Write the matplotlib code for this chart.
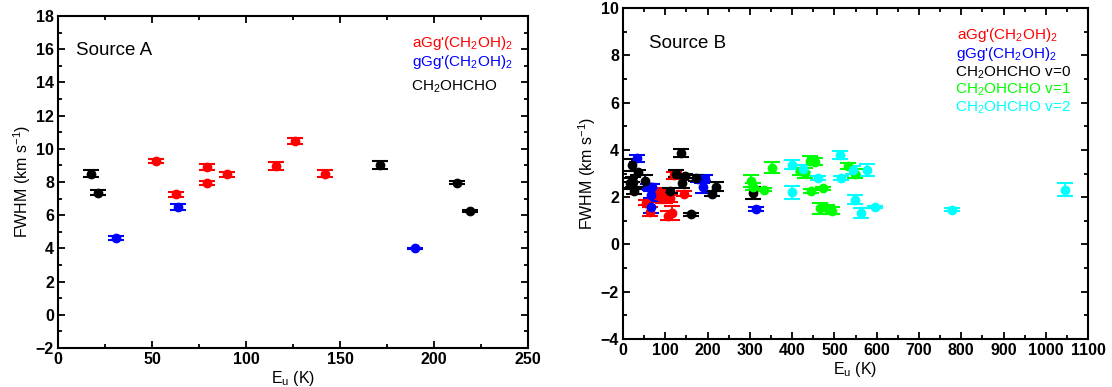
import matplotlib
matplotlib.use("Agg")
import matplotlib.pyplot as plt
from matplotlib.ticker import MultipleLocator

plt.rcParams['font.family'] = ['Liberation Sans', 'DejaVu Sans']
plt.rcParams['mathtext.default'] = 'regular'

RED = '#ff0000'
BLUE = '#0000ff'
GREEN = '#00ff00'
CYAN = '#00ffff'

# Source A
a_agg_eu = [52, 63, 79, 79, 90, 116, 126, 142]
a_agg_fw = [9.25, 7.25, 8.9, 7.95, 8.45, 8.95, 10.45, 8.5]
a_agg_er = [0.12, 0.16, 0.18, 0.13, 0.15, 0.24, 0.18, 0.21]

a_ggg_eu = [31, 64, 190]
a_ggg_fw = [4.6, 6.5, 4.0]
a_ggg_er = [0.12, 0.18, 0.05]

a_gly_eu = [17.7, 21, 171, 212, 219]
a_gly_fw = [8.5, 7.35, 9.0, 7.95, 6.25]
a_gly_er = [0.2, 0.14, 0.24, 0.08, 0.08]

# Source B
b_agg_eu = [54, 64, 78, 84, 90, 95, 100, 105, 110, 106, 116, 121, 143]
b_agg_fw = [1.77, 1.39, 2.2, 2.05, 2.1, 2.0, 1.95, 2.0, 1.95, 1.22, 1.33, 2.93, 2.14]
b_agg_er = [0.12, 0.2, 0.2, 0.25, 0.2, 0.25, 0.2, 0.2, 0.15, 0.2, 0.28, 0.15, 0.1]

b_ggg_eu = [32, 58, 63, 68, 66, 65, 178, 186, 195, 190, 315]
b_ggg_fw = [3.65, 2.45, 2.42, 2.45, 2.1, 1.6, 2.78, 2.75, 2.78, 2.42, 1.5]
b_ggg_er = [0.15, 0.12, 0.12, 0.12, 0.15, 0.25, 0.15, 0.15, 0.15, 0.25, 0.1]

b_v0_eu = [16, 20, 23, 22, 36, 26, 52, 111, 126, 137, 139, 147, 161, 172, 210, 220, 308]
b_v0_fw = [2.6, 2.5, 2.65, 3.35, 3.05, 2.25, 2.7, 2.27, 3.0, 3.88, 2.6, 2.9, 1.27, 2.82, 2.15, 2.45, 2.16]
b_v0_er = [0.2, 0.15, 0.2, 0.25, 0.1, 0.1, 0.25, 0.1, 0.15, 0.17, 0.2, 0.1, 0.08, 0.12, 0.1, 0.2, 0.25]

b_v1_eu = [302, 308, 334, 353, 418, 430, 442, 454, 445, 474, 466, 482, 495, 532, 549]
b_v1_fw = [2.68, 2.45, 2.32, 3.25, 3.1, 3.02, 3.54, 3.5, 2.27, 2.37, 1.53, 1.55, 1.42, 3.3, 3.0]
b_v1_er = [0.25, 0.15, 0.08, 0.23, 0.15, 0.2, 0.2, 0.15, 0.08, 0.08, 0.23, 0.1, 0.15, 0.13, 0.2]

b_v2_eu = [399, 399, 426, 460, 513, 515, 545, 576, 549, 562, 596, 778, 1046]
b_v2_fw = [3.38, 2.2, 3.2, 2.8, 3.78, 2.8, 3.15, 3.15, 1.9, 1.33, 1.58, 1.47, 2.32]
b_v2_er = [0.21, 0.27, 0.15, 0.08, 0.16, 0.08, 0.15, 0.27, 0.21, 0.23, 0.05, 0.07, 0.28]


def pts(ax, x, y, e, c):
    ax.errorbar(x, y, yerr=e, fmt='o', color=c, ms=6, capsize=5.5,
                elinewidth=1.3, capthick=1.5)


def style(ax):
    ax.tick_params(which='both', direction='in', top=True, right=True,
                   width=1.3, labelsize=11.5, pad=3)
    ax.tick_params(which='major', length=5)
    ax.tick_params(which='minor', length=3)
    for s in ax.spines.values():
        s.set_linewidth(1.5)
    for lab in ax.get_xticklabels() + ax.get_yticklabels():
        lab.set_fontweight('bold')
    ax.set_xlabel('E$_u$ (K)', fontsize=11.5, labelpad=1)
    ax.set_ylabel('FWHM (km s$^{-1}$)', fontsize=11.5, labelpad=2)


fig = plt.figure(figsize=(11.12, 3.87), dpi=100)

ax1 = fig.add_axes([0.0522, 0.1008, 0.4227, 0.858])
pts(ax1, a_agg_eu, a_agg_fw, a_agg_er, RED)
pts(ax1, a_ggg_eu, a_ggg_fw, a_ggg_er, BLUE)
pts(ax1, a_gly_eu, a_gly_fw, a_gly_er, 'black')
ax1.set_xlim(0, 250)
ax1.set_ylim(-2, 18)
ax1.xaxis.set_major_locator(MultipleLocator(50))
ax1.xaxis.set_minor_locator(MultipleLocator(25))
ax1.yaxis.set_major_locator(MultipleLocator(2))
ax1.yaxis.set_minor_locator(MultipleLocator(1))
style(ax1)
ax1.text(9.5, 15.9, 'Source A', fontsize=13.5, va='center')
ax1.text(188, 16.35, "aGg'(CH$_2$OH)$_2$", color=RED, fontsize=11, va='center')
ax1.text(188, 15.2, "gGg'(CH$_2$OH)$_2$", color=BLUE, fontsize=11, va='center')
ax1.text(187.5, 13.75, 'CH$_2$OHCHO', color='black', fontsize=11, va='center')

ax2 = fig.add_axes([0.5603, 0.124, 0.4182, 0.8553])
pts(ax2, b_agg_eu, b_agg_fw, b_agg_er, RED)
pts(ax2, b_ggg_eu, b_ggg_fw, b_ggg_er, BLUE)
pts(ax2, b_v0_eu, b_v0_fw, b_v0_er, 'black')
pts(ax2, b_v1_eu, b_v1_fw, b_v1_er, GREEN)
pts(ax2, b_v2_eu, b_v2_fw, b_v2_er, CYAN)
ax2.set_xlim(0, 1100)
ax2.set_ylim(-4, 10)
ax2.xaxis.set_major_locator(MultipleLocator(100))
ax2.xaxis.set_minor_locator(MultipleLocator(50))
ax2.yaxis.set_major_locator(MultipleLocator(2))
ax2.yaxis.set_minor_locator(MultipleLocator(1))
style(ax2)
ax2.text(61, 8.5, 'Source B', fontsize=13.5, va='center')
ax2.text(790, 8.86, "aGg'(CH$_2$OH)$_2$", color=RED, fontsize=11, va='center')
ax2.text(788, 8.06, "gGg'(CH$_2$OH)$_2$", color=BLUE, fontsize=11, va='center')
ax2.text(786, 7.28, 'CH$_2$OHCHO v=0', color='black', fontsize=11, va='center')
ax2.text(786, 6.53, 'CH$_2$OHCHO v=1', color=GREEN, fontsize=11, va='center')
ax2.text(786, 5.76, 'CH$_2$OHCHO v=2', color=CYAN, fontsize=11, va='center')

fig.savefig('out.png', dpi=100)
